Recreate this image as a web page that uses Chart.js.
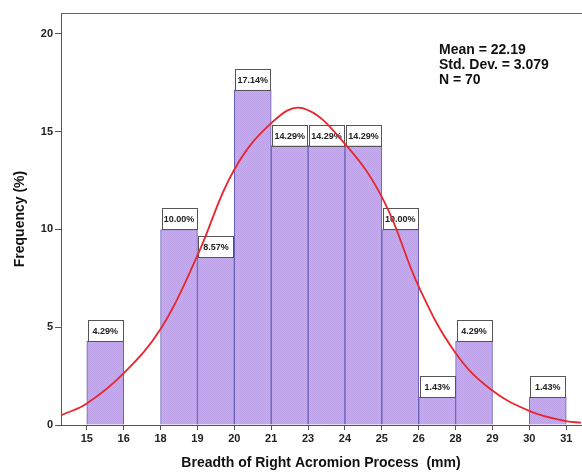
<!DOCTYPE html>
<html>
<head>
<meta charset="utf-8">
<script src="https://cdn.jsdelivr.net/npm/chart.js@4.4.1/dist/chart.umd.min.js"></script>
<style>
  html, body { margin: 0; padding: 0; background: #fff; }
  canvas { display: block; }
</style>
</head>
<body>
<canvas id="histChart" width="582" height="473"></canvas>
<script>
// axis range of the histogram (mm) and its tick labels
var rangeStart = 15;
var rangeEnd = 31;
var tickLabels = ['15', '16', '18', '19', '20', '21', '23', '24', '25', '26', '28', '29', '30', '31'];

// percent of cases in each of the 13 bins
var binPercents = [4.29, 0, 10.00, 8.57, 17.14, 14.29, 14.29, 14.29, 10.00, 1.43, 4.29, 0, 1.43];

// normal curve (mm, %)
var curveX = [14.15, 15.0, 16.2, 17.5, 18.7, 19.9, 21.2, 22.2, 23.6, 24.9, 26.1, 27.3, 28.5, 29.8, 31.0, 31.5];
var curveY = [0.5, 1.1, 2.6, 5.0, 8.7, 13.0, 15.5, 16.2, 14.4, 11.5, 7.0, 3.7, 1.8, 0.7, 0.2, 0.12];

var statsLines = ['Mean = 22.19', 'Std. Dev. = 3.079', 'N = 70'];

var binWidth = (rangeEnd - rangeStart) / binPercents.length;

var barData = [];
binPercents.forEach(function (v, i) {
    if (v > 0) barData.push({ x: rangeStart + (i + 0.5) * binWidth, y: v });
});
var lineData = curveX.map(function (x, i) { return { x: x, y: curveY[i] }; });

// light purple texture like the SPSS fill
function makeFill(ctx) {
    var c = document.createElement('canvas');
    c.width = 2; c.height = 2;
    var p = c.getContext('2d');
    p.fillStyle = '#c8aef0'; p.fillRect(0, 0, 2, 2);
    p.fillStyle = '#bca0e6'; p.fillRect(0, 0, 1, 1); p.fillRect(1, 1, 1, 1);
    return ctx.createPattern(c, 'repeat');
}

var extras = {
    id: 'extras',
    afterDatasetDraw: function (chart, args) {
        if (args.index !== 0) return;
        var ctx = chart.ctx;
        var meta = chart.getDatasetMeta(0);
        ctx.save();
        ctx.font = 'bold 9px Arial, "Liberation Sans", sans-serif';
        ctx.textAlign = 'center';
        ctx.textBaseline = 'middle';
        meta.data.forEach(function (bar, i) {
            var w = bar.width - 2;
            var h = 21;
            var x0 = bar.x - w / 2;
            var y0 = bar.y - h;
            ctx.fillStyle = '#fff';
            ctx.fillRect(x0, y0, w, h);
            ctx.strokeStyle = '#555';
            ctx.lineWidth = 1;
            ctx.strokeRect(Math.round(x0) + 0.5, Math.round(y0) + 0.5, Math.round(w), h);
            ctx.fillStyle = '#222';
            ctx.fillText(barData[i].y.toFixed(2) + '%', bar.x, y0 + h / 2 + 1);
        });
        ctx.restore();
    },
    afterDraw: function (chart) {
        var ctx = chart.ctx;
        var area = chart.chartArea;
        ctx.save();
        ctx.strokeStyle = '#666';
        ctx.lineWidth = 1;
        ctx.beginPath();
        ctx.moveTo(area.left, area.top + 0.5);
        ctx.lineTo(area.right + 2, area.top + 0.5);
        ctx.stroke();
        ctx.fillStyle = '#111';
        ctx.font = 'bold 14px Arial, "Liberation Sans", sans-serif';
        ctx.textBaseline = 'middle';
        statsLines.forEach(function (t, i) {
            ctx.fillText(t, 439, 50 + i * 15);
        });
        ctx.restore();
    }
};

var ctx = document.getElementById('histChart').getContext('2d');
var chart = new Chart(ctx, {
    data: {
        datasets: [{
            type: 'bar',
            data: barData,
            backgroundColor: makeFill(ctx),
            borderColor: '#6660b8',
            borderWidth: 1,
            barPercentage: 1,
            categoryPercentage: 1,
            order: 2
        }, {
            type: 'line',
            data: lineData,
            borderColor: '#e8262e',
            borderWidth: 1.8,
            pointRadius: 0,
            tension: 0.4,
            fill: false,
            order: 1
        }]
    },
    options: {
        responsive: false,
        animation: false,
        layout: { padding: { top: 13, right: 1, left: 0, bottom: 0 } },
        plugins: { legend: { display: false }, tooltip: { enabled: false } },
        scales: {
            x: {
                type: 'linear',
                offset: false,
                min: rangeStart - 0.7 * binWidth,
                max: rangeEnd + 0.4 * binWidth,
                afterBuildTicks: function (s) {
                    s.ticks = tickLabels.map(function (_, i) { return { value: rangeStart + i * binWidth }; });
                },
                afterFit: function (s) { s.height = 48; },
                ticks: {
                    autoSkip: false,
                    maxRotation: 0,
                    color: '#222',
                    font: { family: 'Arial', size: 11, weight: 'bold' },
                    padding: 2,
                    callback: function (v, i) { return tickLabels[i]; }
                },
                grid: { offset: false, drawOnChartArea: false, drawTicks: true, tickLength: 5, color: '#555' },
                border: { display: true, color: '#555' },
                title: {
                    display: true,
                    text: 'Breadth of Right Acromion Process  (mm)',
                    color: '#111',
                    font: { family: 'Arial', size: 14, weight: 'bold' },
                    padding: { top: 0, bottom: 1 }
                }
            },
            y: {
                min: 0,
                max: 21.07,
                afterBuildTicks: function (s) {
                    s.ticks = [0, 5, 10, 15, 20].map(function (v) { return { value: v }; });
                },
                afterFit: function (s) { s.width = 61; },
                ticks: {
                    color: '#222',
                    font: { family: 'Arial', size: 11, weight: 'bold' },
                    padding: 2
                },
                grid: { drawOnChartArea: false, drawTicks: true, tickLength: 6, color: '#555' },
                border: { display: true, color: '#555' },
                title: {
                    display: true,
                    text: 'Frequency (%)',
                    color: '#111',
                    font: { family: 'Arial', size: 14, weight: 'bold' },
                    padding: { top: 12, bottom: 0 }
                }
            }
        }
    },
    plugins: [extras]
});
</script>
</body>
</html>
